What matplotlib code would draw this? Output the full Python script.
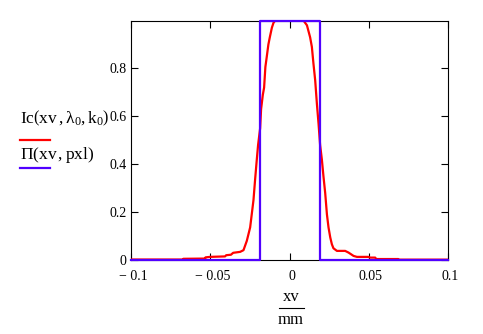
import matplotlib
matplotlib.use('Agg')
import matplotlib.pyplot as plt
import matplotlib.transforms as mtransforms
from matplotlib.lines import Line2D
from matplotlib.ticker import FuncFormatter

plt.rcParams['font.family'] = 'Liberation Serif'
plt.rcParams['mathtext.fontset'] = 'custom'
plt.rcParams['mathtext.rm'] = 'Liberation Serif'
plt.rcParams['mathtext.it'] = 'Liberation Serif'

# image intensity Ic(xv, lambda0, k0) read along xv (in mm)
xv = [-0.1, -0.0673, -0.067, -0.0533, -0.053, -0.0502, -0.0407, -0.040,
      -0.037, -0.0356, -0.0312, -0.0291, -0.027, -0.0249, -0.0228, -0.0218,
      -0.0207, -0.0199, -0.0186, -0.018, -0.0169, -0.0161, -0.0153, -0.0144,
      -0.0134, -0.0125, -0.0112, -0.0102, -0.0091, 0.0, 0.0087, 0.0109,
      0.0129, 0.014, 0.015, 0.0161, 0.0172, 0.0182, 0.0192, 0.0203, 0.0213,
      0.0224, 0.0235, 0.0245, 0.0256, 0.0266, 0.0276, 0.0298, 0.035, 0.0371,
      0.0403, 0.0424, 0.0495, 0.0508, 0.0539, 0.0546, 0.0685, 0.069, 0.1]
ic = [0.002, 0.002, 0.005, 0.006, 0.011, 0.013, 0.015, 0.02,
      0.022, 0.03, 0.034, 0.041, 0.08, 0.136, 0.25, 0.334,
      0.42, 0.48, 0.55, 0.63, 0.69, 0.72, 0.806, 0.85,
      0.90, 0.93, 0.97, 0.99, 1.0, 1.0, 1.0, 0.98,
      0.93, 0.89, 0.82, 0.75, 0.65, 0.57, 0.48, 0.42, 0.35,
      0.28, 0.19, 0.136, 0.094, 0.066, 0.049, 0.038, 0.038, 0.031,
      0.017, 0.013, 0.013, 0.01, 0.01, 0.004, 0.004, 0.0015, 0.0015]

# pixel width for the rect function
pxl = 0.038
xmin, xmax = -0.1, 0.1
rect_x = [xmin, -pxl / 2, -pxl / 2, pxl / 2, pxl / 2, xmax]
rect_y = [0, 0, 1, 1, 0, 0]

xticks = [-0.1, -0.05, 0, 0.05, 0.1]
yticks = [0, 0.2, 0.4, 0.6, 0.8]

red = '#ff0000'
blue = '#5000ff'

W, H = 483, 334
fig = plt.figure(figsize=(W / 100, H / 100), dpi=100)
ax = fig.add_axes([131 / W, 1 - 260 / H, (448.3 - 131) / W, (260 - 20.5) / H])

ax.plot(xv, ic, color=red, lw=1.6, zorder=3)
ax.plot(rect_x, rect_y, color=blue, lw=1.6, zorder=4, clip_on=False)

ax.set_xlim(xmin, xmax)
ax.set_ylim(0, 1)
ax.set_xticks(xticks)
ax.set_yticks(yticks)


def fmt(v, pos):
    if abs(v) < 1e-12:
        return '0'
    s = ('%g' % abs(v))
    return ('\u2212 ' + s) if v < 0 else s


ax.xaxis.set_major_formatter(FuncFormatter(fmt))
ax.yaxis.set_major_formatter(FuncFormatter(fmt))
ax.tick_params(direction='in', length=5, width=0.8, top=True, right=True,
               labelsize=10, color='black')
ax.tick_params(axis='x', pad=7.5)
ax.tick_params(axis='y', pad=3)
for s in ax.spines.values():
    s.set_linewidth(0.8)
    s.set_color('black')

shift = mtransforms.ScaledTranslation(2 / 100, 0, fig.dpi_scale_trans)
for lab in ax.get_xticklabels():
    lab.set_transform(lab.get_transform() + shift)

# trace names on the left
fig.text(20 / W, 1 - 118 / H, r'$\mathrm{Ic}\left(\mathrm{xv}\,,\lambda_0,\mathrm{k}_0\right)$',
         fontsize=12.5, ha='left', va='center')
fig.add_artist(Line2D([20 / W, 50 / W], [1 - 140 / H, 1 - 140 / H], color=red, lw=1.6))
fig.text(20 / W, 1 - 155 / H, r'$\Pi(\mathrm{xv}\,,\mathrm{pxl})$',
         fontsize=12.5, ha='left', va='center')
fig.add_artist(Line2D([20 / W, 50 / W], [1 - 168 / H, 1 - 168 / H], color=blue, lw=1.6))

# x axis label as a fraction xv/mm
fig.text(291 / W, 1 - 297 / H, 'xv', fontsize=12, ha='center', va='center')
fig.add_artist(Line2D([279 / W, 304 / W], [1 - 307.7 / H, 1 - 307.7 / H], color='black', lw=0.8))
fig.text(291 / W, 1 - 319.5 / H, 'mm', fontsize=12, ha='center', va='center')

fig.savefig('out.png', dpi=100)
